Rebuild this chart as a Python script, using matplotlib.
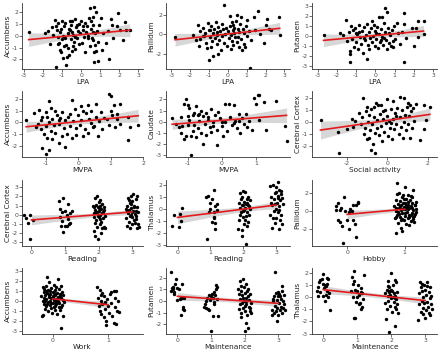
import numpy as np
import matplotlib
matplotlib.use("Agg")
import matplotlib.pyplot as plt

plt.rcParams['font.family'] = ['DejaVu Sans']
plt.rcParams['axes.unicode_minus'] = False

# ---------------- data ----------------
pts_lpa_acc = [(-2.75,0.33),(-1.9,0.25),(-1.75,0.4),(-1.65,-0.7),(-1.55,0.7),(-1.45,0.1),(-1.35,1.3),(-1.3,0.85),
 (-1.25,0.5),(-1.2,1.1),(-1.3,-2.6),(-1.2,-0.7),(-1.15,-0.6),(-1.1,-1.2),(-1.05,-1.35),(-1.0,1.2),(-1.1,0.3),(-1.2,-0.1),
 (-1.0,-0.3),(-1.05,0.6),(-0.95,-1.9),(-0.9,0.8),(-0.85,1.1),(-0.8,-2.45),(-0.8,-0.8),(-0.75,-1.8),(-0.7,0.2),(-0.65,-1.6),
 (-0.6,1.2),(-0.6,0.5),(-0.55,-0.3),(-0.9,-0.9),(-0.85,-0.2),(-0.7,-1.0),(-0.95,0.0),(-0.65,0.6),(-0.5,-1.3),(-0.55,0.9),
 (-0.45,1.2),(-0.4,0.1),(-0.35,-0.5),(-0.3,1.4),(-0.3,-1.1),(-0.25,0.7),(-0.2,-0.2),(-0.15,0.4),(-0.1,-0.7),(-0.1,1.0),
 (-0.05,0.2),(-0.4,-0.9),(-0.2,0.9),(-0.45,0.3),(-0.3,-0.1),(0.05,-0.6),(0.1,0.8),(0.15,-0.1),(0.2,1.1),(0.2,-1.4),
 (0.25,0.3),(0.3,0.8),(0.35,-0.2),(0.4,1.5),(0.45,2.3),(0.45,-0.9),(0.5,0.6),(0.5,1.2),(0.35,0.0),(0.1,0.5),(0.0,1.2),
 (0.55,-0.2),(0.6,1.6),(0.6,-0.4),(0.65,0.9),(0.7,2.45),(0.7,-2.2),(0.7,-1.4),(0.75,0.2),(0.8,2.0),(0.8,-1.3),(0.85,0.4),
 (0.9,-2.15),(0.9,-0.5),(0.95,0.9),(0.6,0.3),(0.75,-0.8),(1.05,1.5),(1.1,-1.2),(1.15,0.25),(1.3,-0.6),(1.45,-1.95),
 (1.4,0.4),(1.55,1.4),(1.6,0.9),(1.7,-0.2),(1.9,0.8),(1.95,1.9),(2.05,0.5),(2.2,-0.4),(2.3,1.15),(2.55,0.45),(2.35,0.5)]

pts_lpa_pal = [(-2.8,-0.25),(-1.85,-0.1),(-1.6,1.0),(-1.55,-1.2),(-1.5,0.35),(-1.45,-0.5),(-1.3,0.7),(-1.3,-0.2),
 (-1.2,0.15),(-1.15,-0.9),(-1.1,-1.4),(-1.05,1.2),(-1.0,-2.7),(-1.0,0.4),(-0.95,-0.3),(-0.9,-1.3),(-0.9,0.9),(-0.85,-0.7),
 (-0.8,-2.3),(-0.8,0.1),(-0.75,0.6),(-0.7,-0.4),(-0.65,1.3),(-0.6,-1.0),(-0.55,0.2),(-0.5,-2.0),(-0.5,0.8),(-0.45,-0.6),
 (-0.4,0.3),(-0.35,-1.6),(-0.3,1.1),(-0.3,-0.2),(-0.25,0.5),(-0.2,3.0),(-0.2,-0.9),(-0.15,0.0),(-0.1,0.7),(-0.05,-1.2),
 (0.0,0.3),(0.05,-0.4),(0.1,1.85),(0.1,0.9),(0.15,-0.1),(0.2,1.3),(0.2,-0.7),(0.25,0.4),(0.3,1.0),(0.3,-1.1),(0.35,0.1),
 (0.4,-0.3),(0.45,1.4),(0.5,2.0),(0.5,-0.8),(0.55,0.6),(0.6,-1.3),(0.6,0.2),(0.65,1.1),(0.7,1.8),(0.7,-0.5),(0.75,-1.6),
 (0.8,0.5),(0.85,-1.0),(0.9,-1.35),(0.95,0.9),(1.0,1.5),(1.0,-0.2),(1.1,0.3),(1.2,-3.45),(1.25,-0.6),(1.4,1.8),(1.45,0.4),
 (1.6,2.4),(1.7,0.0),(1.9,-0.95),(2.0,1.0),(2.1,1.6),(2.2,0.6),(2.3,0.4),(2.7,1.75),(2.75,-0.05),(-1.7,-0.6),(-0.6,-0.05),
 (0.35,0.7),(-1.25,-0.15),(0.85,0.15),(0.15,-1.5),(-0.95,0.45),(0.55,-0.25)]

pts_lpa_put = [(-2.7,0.15),(-1.85,0.3),(-1.7,0.1),(-1.55,1.6),(-1.5,-0.5),(-1.4,0.4),(-1.35,-1.75),(-1.35,-2.6),
 (-1.3,-1.5),(-1.25,1.0),(-1.2,-0.3),(-1.15,0.6),(-1.1,-1.1),(-1.05,0.8),(-1.0,-0.6),(-0.95,0.2),(-0.9,-1.3),(-0.85,1.1),
 (-0.8,-0.1),(-0.75,-0.8),(-0.7,0.5),(-0.65,-1.7),(-0.6,0.9),(-0.55,-0.4),(-0.5,0.1),(-0.45,-2.3),(-0.45,1.2),(-0.4,-0.9),
 (-0.35,0.4),(-0.3,-0.2),(-0.25,0.8),(-0.2,1.5),(-0.2,-0.6),(-0.15,0.0),(-0.1,1.1),(-0.05,-1.0),(0.0,0.5),(0.05,-0.3),
 (0.1,0.9),(0.15,-1.2),(0.2,1.9),(0.2,0.2),(0.25,-0.6),(0.3,0.7),(0.35,1.9),(0.35,-0.1),(0.4,-0.9),(0.45,1.3),(0.5,2.85),
 (0.5,0.4),(0.55,-0.4),(0.6,2.4),(0.6,-1.3),(0.65,0.8),(0.7,-0.7),(0.75,0.1),(0.8,-1.0),(0.85,0.6),(0.9,-0.5),(0.95,1.0),
 (1.0,-0.3),(1.1,1.3),(1.15,0.3),(1.25,-0.8),(1.4,0.4),(1.5,2.3),(1.5,1.2),(1.5,-2.6),(1.6,-0.2),(1.9,0.8),(2.0,-1.0),
 (2.1,0.8),(2.2,-0.1),(2.2,1.5),(2.5,1.55),(2.5,0.2),(-1.0,0.3),(-0.6,-0.15),(0.3,-0.35),(0.7,0.3),(-0.35,-1.3),(0.05,0.35),
 (-0.85,0.45),(0.45,-0.2),(0.9,-1.1)]

pts_mvpa_acc = [(-1.6,0.25),(-1.35,0.85),(-1.3,-0.4),(-1.25,-0.1),(-1.2,1.1),(-1.15,-0.6),(-1.1,-2.2),(-1.1,0.5),
 (-1.05,-1.0),(-1.0,-2.7),(-1.0,-0.3),(-1.0,0.9),(-0.95,-1.3),(-0.9,1.85),(-0.9,-2.4),(-0.9,0.0),(-0.85,1.2),(-0.85,-0.7),
 (-0.8,0.3),(-0.8,-1.4),(-0.75,-0.2),(-0.7,1.0),(-0.7,-0.9),(-0.65,0.6),(-0.6,-1.8),(-0.6,-0.1),(-0.55,0.4),(-0.5,-1.2),
 (-0.5,0.9),(-0.45,-0.5),(-0.4,-2.15),(-0.4,0.2),(-0.35,-1.0),(-0.3,0.5),(-0.25,-0.3),(-0.2,1.9),(-0.2,-1.3),(-0.15,0.1),
 (-0.1,1.15),(-0.05,-1.1),(-0.05,-0.5),(0.0,0.6),(0.05,-0.2),(0.1,1.4),(0.1,0.2),(0.15,-1.2),(0.2,-0.6),(0.25,0.8),
 (0.3,1.5),(0.3,-0.9),(0.35,0.3),(0.4,1.0),(0.45,-0.4),(0.5,-0.3),(0.55,1.55),(0.55,0.5),(0.6,-1.2),(0.65,0.1),(0.7,0.9),
 (0.75,-0.6),(0.8,0.4),(0.9,0.3),(0.95,2.4),(0.95,-0.2),(1.0,2.3),(1.0,1.0),(1.05,0.6),(1.1,1.5),(1.15,-0.4),(1.2,0.7),
 (1.2,0.3),(1.3,1.55),(1.3,-0.1),(1.55,0.45),(1.55,-1.5),(1.6,-0.35),(1.85,-0.2),(-1.15,0.2),(-0.6,0.25),(-0.25,0.75),
 (0.4,-0.05),(-0.95,0.45),(0.15,0.95)]

pts_mvpa_cau = [(-1.45,0.3),(-1.35,-0.2),(-1.25,-0.5),(-1.2,0.45),(-1.2,-1.0),(-1.15,-0.4),(-1.1,1.6),(-1.1,-1.5),
 (-1.05,2.0),(-1.05,-1.3),(-1.0,1.5),(-1.0,-0.3),(-0.95,1.2),(-0.95,0.2),(-0.9,-1.3),(-0.9,-3.0),(-0.85,-0.8),(-0.8,0.8),
 (-0.8,-0.3),(-0.75,1.4),(-0.75,-1.4),(-0.7,0.6),(-0.7,-0.6),(-0.65,0.1),(-0.6,1.0),(-0.6,-1.0),(-0.55,-2.0),(-0.55,0.5),
 (-0.5,-0.2),(-0.45,0.8),(-0.45,-1.2),(-0.4,0.2),(-0.35,-0.5),(-0.3,1.1),(-0.3,-0.9),(-0.25,0.0),(-0.2,0.6),(-0.15,-2.1),
 (-0.15,-0.7),(-0.1,0.9),(-0.05,0.3),(0.0,-0.4),(0.05,-1.3),(0.1,1.6),(0.1,0.0),(0.15,-0.8),(0.2,1.6),(0.25,0.4),
 (0.3,-0.3),(0.35,1.5),(0.4,0.1),(0.45,-0.6),(0.5,0.7),(0.55,-1.0),(0.6,0.3),(0.65,-0.2),(0.7,0.7),(0.75,-0.5),(0.8,0.1),
 (0.9,-0.7),(0.95,2.1),(1.0,1.6),(1.05,2.4),(1.1,2.35),(1.1,0.2),(1.25,1.75),(1.3,-0.7),(1.6,1.9),(1.85,-0.4),(1.9,-1.75),
 (-0.85,0.6),(-0.65,0.7),(-0.4,0.45),(0.0,-0.05),(0.35,-0.15),(-1.0,0.55),(-0.25,-0.4),(0.5,0.05)]

pts_soc_cc = [(-3.3,0.2),(-2.45,-0.8),(-2.4,-2.6),(-2.0,-0.6),(-1.75,0.3),(-1.7,-0.4),(-1.6,0.1),(-1.4,0.8),(-1.3,-0.2),
 (-1.25,0.4),(-1.2,2.0),(-1.15,-1.0),(-1.1,-0.5),(-1.05,0.9),(-1.0,1.3),(-1.0,-1.4),(-0.95,0.0),(-0.9,-1.3),(-0.9,0.6),
 (-0.85,-0.7),(-0.8,-2.3),(-0.8,1.1),(-0.75,-0.2),(-0.7,-1.8),(-0.65,0.4),(-0.6,-2.6),(-0.6,-0.9),(-0.55,1.6),(-0.5,0.2),
 (-0.5,-0.5),(-0.45,1.4),(-0.4,-1.1),(-0.35,0.7),(-0.3,1.4),(-0.3,-0.3),(-0.25,-1.6),(-0.2,0.3),(-0.15,-0.8),(-0.1,1.0),
 (-0.05,-0.1),(0.0,1.9),(0.0,0.5),(0.05,-1.2),(0.1,0.1),(0.15,-0.5),(0.2,1.1),(0.25,-1.4),(0.3,1.8),(0.3,0.3),(0.35,-0.6),
 (0.4,0.8),(0.45,-0.2),(0.5,1.2),(0.55,-1.0),(0.6,2.1),(0.6,0.4),(0.65,-0.4),(0.7,1.0),(0.75,-1.3),(0.8,2.05),(0.8,0.0),
 (0.85,0.6),(0.9,-0.7),(0.95,1.3),(1.0,1.6),(1.0,-0.2),(1.05,0.5),(1.1,1.45),(1.1,-1.3),(1.15,0.9),(1.2,-0.5),(1.25,1.2),
 (1.3,0.1),(1.4,1.5),(1.6,-1.5),(1.8,1.45),(1.8,-0.55),(1.9,0.2),(2.1,1.25),(-0.65,1.3),(0.2,-0.05),(-0.2,0.9),(0.45,0.55)]

pts_read_cc = [(-0.23,0.0),(-0.15,-0.33),(-0.1,-0.85),(-0.03,0.0),(0.04,-0.6),(-0.03,-2.7),
 (0.82,1.45),(0.85,0.6),(0.9,-0.7),(0.95,1.85),(1.0,0.4),(0.95,-1.85),(1.05,-1.2),(1.1,1.2),(1.1,-0.5),(1.15,0.2),
 (1.15,-0.9),(0.88,-1.2),(0.9,0.25),(1.2,0.4),(1.0,-1.2),(1.05,0.0),(1.12,-1.05),(0.85,-0.2),
 (1.82,1.0),(1.85,-0.2),(1.85,-1.8),(1.88,0.5),(1.9,1.8),(1.9,-2.3),(1.92,-0.6),(1.93,0.2),(1.95,2.1),(1.95,-1.3),
 (1.97,0.8),(1.98,-2.6),(2.0,1.4),(2.0,-0.3),(2.02,0.4),(2.03,-1.0),(2.05,1.6),(2.05,0.0),(2.07,-0.8),(2.08,0.6),
 (2.1,1.2),(2.1,-1.5),(2.12,0.3),(2.13,-0.4),(2.15,0.9),(2.15,-1.3),(2.17,0.5),(2.2,-0.1),(1.87,0.9),(1.9,-0.9),
 (1.95,0.3),(2.0,0.7),(2.05,-0.5),(2.1,0.2),(1.92,1.1),(2.18,-1.4),(1.85,0.2),(2.03,1.0),(1.97,-0.1),(2.08,-2.0),
 (2.8,0.6),(2.82,-0.4),(2.83,1.0),(2.85,-1.2),(2.87,0.2),(2.88,1.8),(2.9,-0.8),(2.9,0.5),(2.92,1.3),(2.93,-1.5),
 (2.95,0.0),(2.95,2.0),(2.97,0.7),(2.98,-0.3),(3.0,1.5),(3.0,-1.0),(3.02,0.4),(3.03,2.3),(3.05,-0.6),(3.05,1.0),
 (3.07,0.1),(3.08,-0.9),(3.1,1.7),(3.1,0.4),(3.12,-0.5),(3.13,0.8),(3.15,2.0),(3.15,-1.4),(3.17,0.3),(3.18,-1.0),
 (3.2,-1.3),(2.85,0.4),(2.9,1.6),(3.0,0.3),(3.05,0.9),(2.93,-0.1),(3.1,-0.1),(2.97,1.2)]

pts_read_tha = [(-0.18,-1.4),(-0.12,-0.5),(0.05,-1.55),(0.07,-0.45),(0.1,-1.0),(0.15,0.05),
 (0.88,1.0),(0.9,-2.5),(0.93,1.05),(1.0,0.5),(1.05,0.8),(1.1,1.6),(1.1,-0.7),(1.15,-1.2),(1.15,-1.7),(1.2,0.4),
 (0.95,-0.3),(1.05,-1.1),(1.0,0.0),(1.1,-0.3),(1.15,0.2),(1.12,-0.8),(1.2,-0.1),
 (1.85,-1.7),(1.88,0.5),(1.9,1.3),(1.92,-0.3),(1.95,0.3),(1.95,-1.8),(1.97,1.0),(2.0,1.5),(2.0,-0.2),(2.02,0.6),
 (2.03,-1.3),(2.05,1.4),(2.05,0.1),(2.07,-0.6),(2.08,-2.9),(2.1,0.8),(2.1,-0.3),(2.12,-1.4),(2.13,0.3),(2.15,1.0),
 (2.17,-0.5),(2.2,0.7),(2.2,0.0),(1.87,-0.9),(1.9,0.1),(1.93,0.8),(1.98,-0.7),(2.0,0.3),(2.05,-0.9),(2.1,0.5),
 (2.15,-1.1),(1.95,-2.3),(2.02,-0.1),(2.08,0.4),(1.9,-0.5),(2.18,0.2),
 (2.8,1.9),(2.82,-0.5),(2.85,1.0),(2.87,0.3),(2.88,-1.6),(2.9,2.0),(2.92,-0.2),(2.93,0.8),(2.95,-1.2),(2.97,1.3),
 (2.98,0.0),(3.0,1.8),(3.0,-0.8),(3.02,0.5),(3.05,2.2),(3.05,-0.3),(3.07,1.1),(3.08,-1.7),(3.1,0.2),(3.1,1.6),
 (3.12,-0.9),(3.13,0.7),(3.15,1.2),(3.15,-0.5),(3.17,0.9),(3.18,-1.3),(3.2,0.4),(2.85,0.5),(2.95,0.4),(3.05,0.9),
 (3.1,-0.1),(3.0,1.4),(2.9,-0.8),(3.15,1.5)]

pts_hob_pal = [(-0.2,0.57),(-0.16,0.86),(-0.05,1.5),(-0.19,0.14),(-0.13,0.14),(-0.16,-0.93),(-0.13,-1.2),(-0.09,-1.57),
 (0.03,-1.9),(0.0,-0.93),(0.03,-0.1),(0.1,0.68),(0.15,0.68),(0.19,1.0),(0.16,-2.8),(0.13,-1.46),(0.1,-0.93),(-0.08,-3.43),
 (0.08,0.0),(-0.1,0.3),(0.05,0.2),(0.18,0.85),(-0.03,-0.05),
 (0.82,0.5),(0.83,-0.8),(0.84,1.2),(0.85,-2.4),(0.85,0.0),(0.86,1.8),(0.87,3.05),(0.87,-0.4),(0.88,0.8),(0.89,-1.3),
 (0.9,2.0),(0.9,0.3),(0.91,-0.6),(0.92,1.1),(0.93,-1.8),(0.93,0.1),(0.94,0.6),(0.95,-2.2),(0.95,1.5),(0.96,-0.2),
 (0.97,0.9),(0.98,-1.0),(0.98,0.4),(0.99,1.3),(1.0,-0.5),(1.0,0.2),(1.01,2.6),(1.02,-1.4),(1.03,0.7),(1.04,-0.1),
 (1.05,1.0),(1.05,-0.8),(1.06,1.7),(1.07,0.3),(1.08,-0.4),(1.09,1.2),(1.1,-1.1),(1.1,0.5),(1.11,1.6),(1.12,-0.2),
 (1.13,0.9),(1.14,-0.7),(1.15,2.3),(1.15,0.1),(1.16,-1.2),(1.17,0.6),(1.18,-0.3),(1.19,1.0),(1.2,0.2),(0.88,-0.1),
 (0.92,0.5),(0.96,-0.9),(1.0,0.9),(1.04,0.4),(1.08,-0.6),(1.12,0.3),(1.16,-0.5),(0.85,0.3),(0.9,-0.3),(0.95,0.2),
 (1.0,-0.2),(1.05,0.2),(1.1,-0.4),(1.13,1.5),(1.18,0.7),(1.02,1.3),(0.97,1.7),(1.07,-1.5),(0.93,-1.0),(1.15,-0.9),
 (1.19,-0.1),(0.84,-0.6),(1.06,0.6)]

pts_work_acc = [(-0.2,0.5),(-0.19,-1.5),(-0.18,1.4),(-0.18,0.0),(-0.17,-1.35),(-0.16,0.9),(-0.15,1.2),(-0.15,-0.3),
 (-0.14,0.6),(-0.13,-0.8),(-0.12,1.5),(-0.12,0.2),(-0.11,-0.5),(-0.1,0.8),(-0.1,2.4),(-0.09,-0.1),(-0.08,1.1),(-0.08,-1.0),
 (-0.07,0.4),(-0.06,1.9),(-0.05,-0.4),(-0.05,0.7),(-0.04,0.0),(-0.03,1.3),(-0.03,-0.7),(-0.02,0.3),(-0.01,-1.2),(0.0,0.9),
 (0.0,-0.2),(0.01,0.5),(0.02,1.6),(0.02,-0.6),(0.03,0.1),(0.04,-0.9),(0.05,0.6),(0.05,1.1),(0.06,-0.3),(0.07,0.2),
 (0.08,-1.3),(0.08,0.8),(0.09,-0.1),(0.1,2.2),(0.1,0.4),(0.11,-0.6),(0.12,1.2),(0.12,-0.2),(0.13,0.7),(0.14,-0.9),
 (0.15,-2.7),(0.15,0.3),(0.16,1.5),(0.17,-0.4),(0.18,0.1),(0.18,-1.5),(0.19,0.6),(0.2,-0.1),(-0.16,0.3),(-0.1,-0.3),
 (-0.05,1.0),(0.0,0.3),(0.05,-0.5),(0.1,0.0),(0.15,-0.6),(-0.13,0.0),(-0.07,0.6),(0.03,0.8),(0.07,-0.1),(0.13,0.5),
 (-0.02,-0.2),(0.06,1.4),(-0.11,1.0),(0.17,0.9),
 (0.8,1.4),(0.82,0.3),(0.83,-0.5),(0.85,1.1),(0.86,-1.0),(0.87,0.0),(0.88,-1.3),(0.9,0.8),(0.9,-0.3),(0.92,-1.6),
 (0.93,0.5),(0.95,-0.8),(0.96,-2.0),(0.97,-2.4),(0.98,0.2),(1.0,-0.5),(1.02,-1.2),(1.03,0.7),(1.05,-0.2),(1.06,0.9),
 (1.08,-1.5),(1.1,1.0),(1.1,-2.2),(1.12,-0.6),(1.13,0.3),(1.15,0.95),(1.15,-2.3),(1.17,-1.0),(1.18,0.0),(1.2,-1.1),
 (0.88,0.6),(0.95,-0.1)]

pts_main_put = [(-0.2,2.5),(-0.15,1.1),(-0.12,1.0),(-0.1,0.6),(-0.05,1.9),(-0.07,1.5),(0.0,0.05),(0.05,1.0),(0.15,1.5),
 (0.15,0.3),(0.17,-0.5),(0.2,-0.8),(0.12,-1.2),(0.0,1.1),(-0.1,0.8),(0.1,0.3),(-0.18,0.9),(0.18,-0.7),(0.08,0.2),
 (-0.13,1.2),(0.2,0.3),
 (0.8,-0.5),(0.85,0.0),(0.9,-0.7),(0.95,0.5),(1.0,-2.6),(1.0,0.4),(1.05,-1.3),(1.1,0.8),(1.15,1.4),(1.15,1.0),
 (1.2,-1.3),(1.1,-0.3),(0.82,-0.3),(0.88,0.3),(0.93,-0.8),(0.97,0.1),(1.03,0.6),(1.08,-0.1),(1.12,0.5),(1.18,0.2),
 (0.85,-0.6),(1.05,0.3),(1.17,1.2),
 (1.8,1.0),(1.85,1.7),(1.85,-0.3),(1.9,-1.4),(1.95,1.9),(2.0,-2.6),(2.05,-1.9),(2.1,-2.3),(2.05,1.5),(1.82,0.6),
 (1.83,-0.7),(1.87,0.2),(1.88,-1.0),(1.9,0.9),(1.92,-0.2),(1.93,0.5),(1.95,-0.6),(1.97,1.2),(1.98,0.0),(2.0,0.7),
 (2.02,-0.9),(2.03,0.3),(2.05,-0.3),(2.07,0.9),(2.08,-1.2),(2.1,0.4),(2.12,-0.5),(2.13,0.1),(2.15,-0.9),(2.17,0.6),
 (2.18,-0.2),(2.2,-1.0),(1.9,1.3),(2.0,-0.4),(2.1,1.0),(1.95,0.3),(2.15,-0.6),(2.05,0.0),
 (2.8,-1.2),(2.85,0.2),(2.9,2.5),(2.95,-1.7),(3.1,1.3),(3.0,0.8),(2.82,-0.8),(2.83,0.0),(2.87,-1.0),(2.88,0.4),
 (2.9,-0.4),(2.92,0.7),(2.93,-0.9),(2.95,0.1),(2.97,-0.6),(2.98,0.4),(3.0,-1.2),(3.02,-0.2),(3.03,0.6),(3.05,-0.8),
 (3.07,0.2),(3.08,-0.5),(3.1,0.9),(3.12,-1.0),(3.13,0.0),(3.15,-0.6),(3.17,0.5),(3.18,-0.3),(3.2,-0.8),(3.05,0.4)]

pts_main_tha = [(-0.15,0.8),(-0.1,1.4),(-0.05,1.5),(0.0,1.9),(0.05,1.0),(0.1,1.1),(0.15,1.5),(0.2,-1.05),(-0.15,0.1),
 (0.0,0.1),(0.1,0.5),(0.05,-0.3),(-0.12,1.2),(-0.08,0.4),(0.02,0.7),(0.12,1.6),(0.18,0.3),(-0.18,0.5),(0.07,0.2),
 (0.15,0.0),(-0.02,1.1),(0.08,0.9),
 (0.85,1.65),(0.9,2.15),(0.9,-1.7),(0.95,-1.7),(1.0,0.5),(1.05,-0.6),(1.1,-1.0),(1.15,0.3),(1.2,1.8),(0.82,0.5),
 (0.87,0.0),(0.92,1.3),(0.95,0.6),(0.98,-0.4),(1.02,1.0),(1.05,0.2),(1.08,-0.5),(1.12,0.7),(1.15,-0.8),(1.18,-0.2),
 (0.88,1.1),(1.0,0.0),(1.1,0.4),
 (1.85,-1.8),(1.95,-2.9),(2.1,-2.4),(2.0,1.95),(2.1,1.4),(1.9,0.9),(1.82,0.3),(1.83,-0.5),(1.87,0.6),(1.88,-1.0),
 (1.9,0.1),(1.92,-0.3),(1.93,0.4),(1.95,0.8),(1.97,-0.7),(1.98,0.2),(2.0,-0.1),(2.02,0.5),(2.03,-1.2),(2.05,1.0),
 (2.07,-0.4),(2.08,0.3),(2.1,-0.8),(2.12,0.1),(2.13,-0.2),(2.15,1.2),(2.17,-0.6),(2.18,0.4),(2.2,-1.3),(1.95,0.5),
 (2.05,0.0),(2.15,-1.0),(1.9,1.3),(2.0,0.6),(2.1,-0.1),
 (2.8,-1.9),(2.85,1.2),(3.0,-1.7),(3.15,-1.5),(2.82,0.3),(2.83,-0.6),(2.87,0.8),(2.88,-1.2),(2.9,1.1),(2.9,-0.3),
 (2.92,0.5),(2.93,-0.9),(2.95,0.0),(2.97,1.0),(2.98,-0.5),(3.0,0.6),(3.02,-1.1),(3.03,0.2),(3.05,-0.4),(3.07,1.2),
 (3.08,-0.8),(3.1,0.4),(3.12,-1.3),(3.13,-0.1),(3.15,0.8),(3.17,-0.6),(3.18,0.1),(3.2,-1.0),(2.95,-1.4),(3.05,0.9)]

# panel labels and axes ranges
x_labels = ["LPA", "LPA", "LPA", "MVPA", "MVPA", "Social activity",
            "Reading", "Reading", "Hobby", "Work", "Maintenance", "Maintenance"]
y_labels = ["Accumbens", "Pallidum", "Putamen", "Accumbens", "Caudate", "Cerebral Cortex",
            "Cerebral Cortex", "Thalamus", "Pallidum", "Accumbens", "Putamen", "Thalamus"]
categorical = [False]*6 + [True]*6
x_ticks = [[-3,-2,-1,0,1,2,3]]*3 + [[-1,0,1,2],[-1,0,1],[-2,0,2],[0,1,2,3],[0,1,2,3],[0,1],[0,1],[0,1,2,3],[0,1,2,3]]
y_ticks = [[-2,-1,0,1,2],[-2,0,2],[-3,-2,-1,0,1,2,3],[-2,-1,0,1,2],[-3,-2,-1,0,1,2],[-2,-1,0,1,2],
           [-3,-2,-1,0,1,2,3],[-3,-2,-1,0,1,2],[-2,0,2],[-3,-2,-1,0,1,2,3],[-2,-1,0,1,2],[-3,-2,-1,0,1,2]]
x_lims = [(-3.1,3.25),(-3.28,3.3),(-3.3,3.2),(-1.73,2.0),(-1.63,2.0),(-3.72,2.45),
          (-0.28,3.32),(-0.35,3.42),(-0.61,1.56),(-0.55,1.63),(-0.34,3.35),(-0.33,3.35)]
y_lims = [(-2.8,2.75),(-3.6,3.25),(-3.25,3.3),(-2.97,2.7),(-3.15,2.75),(-2.92,2.6),
          (-3.42,3.8),(-3.1,2.4),(-3.79,3.36),(-3.25,3.25),(-2.86,2.86),(-3.03,2.38)]

all_pts = [pts_lpa_acc, pts_lpa_pal, pts_lpa_put, pts_mvpa_acc, pts_mvpa_cau, pts_soc_cc,
           pts_read_cc, pts_read_tha, pts_hob_pal, pts_work_acc, pts_main_put, pts_main_tha]

# ---------------- figure ----------------
W, H = 440, 353
fig = plt.figure(figsize=(W/100, H/100), dpi=100)
col_left = [22, 166, 312]
col_w = [121, 124, 125]
row_bottom = [69, 157, 246, 334]
ax_h = 66

axis_col = '#333333'
txt_col = '#4d4d4d'

for i, pts in enumerate(all_pts):
    r, c = divmod(i, 3)
    ax = fig.add_axes([col_left[c]/W, 1-row_bottom[r]/H, col_w[c]/W, ax_h/H])
    arr = np.array(pts, dtype=float)
    xs, ys = arr[:, 0], arr[:, 1]
    xfit = np.round(xs) if categorical[i] else xs
    # OLS fit with 95% confidence band
    n = len(xs)
    b, a = np.polyfit(xfit, ys, 1)
    resid = ys - (a + b*xfit)
    s = np.sqrt(np.sum(resid**2)/(n-2))
    xm = xfit.mean()
    sxx = np.sum((xfit-xm)**2)
    xg = np.linspace(xfit.min(), xfit.max(), 80)
    yg = a + b*xg
    se = s*np.sqrt(1.0/n + (xg-xm)**2/sxx)
    ax.fill_between(xg, yg-1.97*se, yg+1.97*se, color='#bdbdbd', alpha=0.6, linewidth=0, zorder=1)
    ax.scatter(xs, ys, s=6, color='black', linewidths=0, zorder=2)
    ax.plot(xg, yg, color='#e41a1c', linewidth=1.2, zorder=3)

    ax.set_xlim(*x_lims[i])
    ax.set_ylim(*y_lims[i])
    ax.set_xticks(x_ticks[i])
    ax.set_yticks(y_ticks[i])
    for sp in ['top', 'right']:
        ax.spines[sp].set_visible(False)
    for sp in ['left', 'bottom']:
        ax.spines[sp].set_color(axis_col)
        ax.spines[sp].set_linewidth(0.6)
    ax.tick_params(axis='both', length=2, width=0.5, color=axis_col, labelsize=4.4,
                   labelcolor=txt_col, pad=0.8)
    ax.set_xlabel(x_labels[i], fontsize=5.3, color='#222222', labelpad=0.5)
    ax.set_ylabel(y_labels[i], fontsize=5.3, color='#222222', labelpad=1.0)
    ax.set_facecolor('white')

fig.savefig('out.png', dpi=100, facecolor='white')
